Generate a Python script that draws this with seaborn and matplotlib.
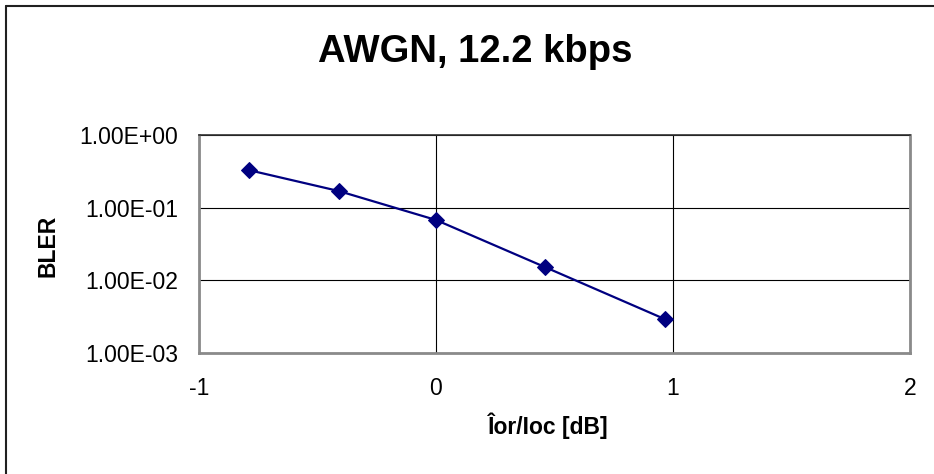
import pandas as pd
import numpy as np
import seaborn as sns
import matplotlib.pyplot as plt
from matplotlib.lines import Line2D
from matplotlib.ticker import FuncFormatter, FixedLocator

# Data
ior_ioc_db = [-0.79, -0.41, 0.0, 0.46, 0.966]
bler = [0.33, 0.17, 0.068, 0.0153, 0.00294]
x_ticks = [-1, 0, 1, 2]
y_ticks = [1e-3, 1e-2, 1e-1, 1e0]

df = pd.DataFrame({"ior_ioc": ior_ioc_db, "bler": bler})

sns.set_theme(style="white")
plt.rcParams['font.family'] = ['Liberation Sans', 'DejaVu Sans']
plt.rcParams['text.color'] = 'black'
plt.rcParams['axes.labelcolor'] = 'black'

fig = plt.figure(figsize=(9.34, 4.74), dpi=100)
ax = fig.add_axes([0.213, 0.255, 0.761, 0.460])

sns.lineplot(data=df, x="ior_ioc", y="bler", ax=ax, color="#000080",
             marker="D", markersize=8, markeredgecolor="#000080",
             linewidth=1.6, zorder=3)

ax.set_yscale("log")
ax.set_xlim(-1, 2)
ax.set_ylim(1e-3, 1e0)
ax.xaxis.set_major_locator(FixedLocator(x_ticks))
ax.yaxis.set_major_locator(FixedLocator(y_ticks))
ax.yaxis.set_minor_locator(FixedLocator([]))
ax.yaxis.set_major_formatter(FuncFormatter(lambda v, p: f"{v:.2E}"))
ax.xaxis.set_major_formatter(FuncFormatter(lambda v, p: f"{v:g}"))

ax.grid(True, color="black", linewidth=0.8)
for s in ["left", "bottom", "right"]:
    ax.spines[s].set_color("#8a8a8a")
    ax.spines[s].set_linewidth(2)
ax.spines["top"].set_color("#303030")
ax.spines["top"].set_linewidth(1.2)

ax.tick_params(axis="x", labelsize=16.5, pad=17, length=0, colors="black")
ax.tick_params(axis="y", labelsize=16.5, pad=15, length=0, colors="black")

ax.set_xlabel("Îor/Ioc [dB]", fontsize=16.5, fontweight="bold")
ax.xaxis.set_label_coords(0.491, -0.27)
ax.set_ylabel("BLER", fontsize=16.5, fontweight="bold")
ax.yaxis.set_label_coords(-0.196, 0.49)

fig.text(475 / 934, 1 - 62 / 474, "AWGN, 12.2 kbps", fontsize=27.5,
         fontweight="bold", ha="center", va="baseline")

# outer chart border (only top and left edges are visible in the reference)
fig.add_artist(Line2D([5.5 / 934, 5.5 / 934], [0, 1 - 5.5 / 474],
                      transform=fig.transFigure, color="#202020", linewidth=1.5))
fig.add_artist(Line2D([5.5 / 934, 1], [1 - 5.5 / 474, 1 - 5.5 / 474],
                      transform=fig.transFigure, color="#202020", linewidth=1.5))

fig.savefig("out.png", dpi=100)
